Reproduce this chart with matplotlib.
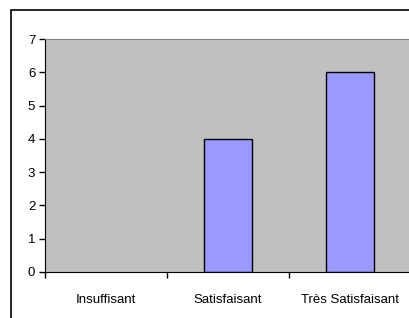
import matplotlib
matplotlib.use("Agg")
import matplotlib.pyplot as plt
from matplotlib.patches import Rectangle
import numpy as np

categories = ["Insuffisant", "Satisfaisant", "Très Satisfaisant"]
values = [0, 4, 6]
yticks = [0, 1, 2, 3, 4, 5, 6, 7]

plt.rcParams['font.family'] = ['Liberation Sans', 'DejaVu Sans']

W, H = 409, 318
fig = plt.figure(figsize=(W/100, H/100), dpi=100)
fig.patch.set_facecolor("white")

# outer chart border
fig.patches.append(Rectangle((11/W, -0.05), 1.2, (H-10)/H + 0.05, transform=fig.transFigure,
                             fill=False, edgecolor="black", linewidth=1.2, zorder=0))

ax = fig.add_axes([45/W, (H-272)/H, 366/W, (272-39)/H])
ax.set_facecolor("#C0C0C0")
x = np.arange(len(categories))
lws = [1 if v > 0 else 0 for v in values]
ax.bar(x, values, width=0.4, color="#9999FF", edgecolor="black", linewidth=lws)
ax.set_xlim(-0.5, len(categories)-0.5)
ax.set_ylim(0, 7)
ax.set_yticks(yticks)
ax.set_yticklabels([str(v) for v in yticks])
ax.set_xticks(x)
ax.set_xticklabels(categories)
ax.set_xticks(np.arange(len(categories)+1) - 0.5, minor=True)
ax.tick_params(axis="x", which="major", length=0, pad=16, labelsize=9.5)
ax.tick_params(axis="x", which="minor", length=4, width=1, direction="out")
ax.tick_params(axis="y", length=4, width=1, direction="out", labelsize=9.5, pad=3)
ax.spines["top"].set_color("#808080")
ax.spines["right"].set_visible(False)
ax.spines["left"].set_color("black")
ax.spines["bottom"].set_color("black")

fig.savefig("out.png", dpi=100)
